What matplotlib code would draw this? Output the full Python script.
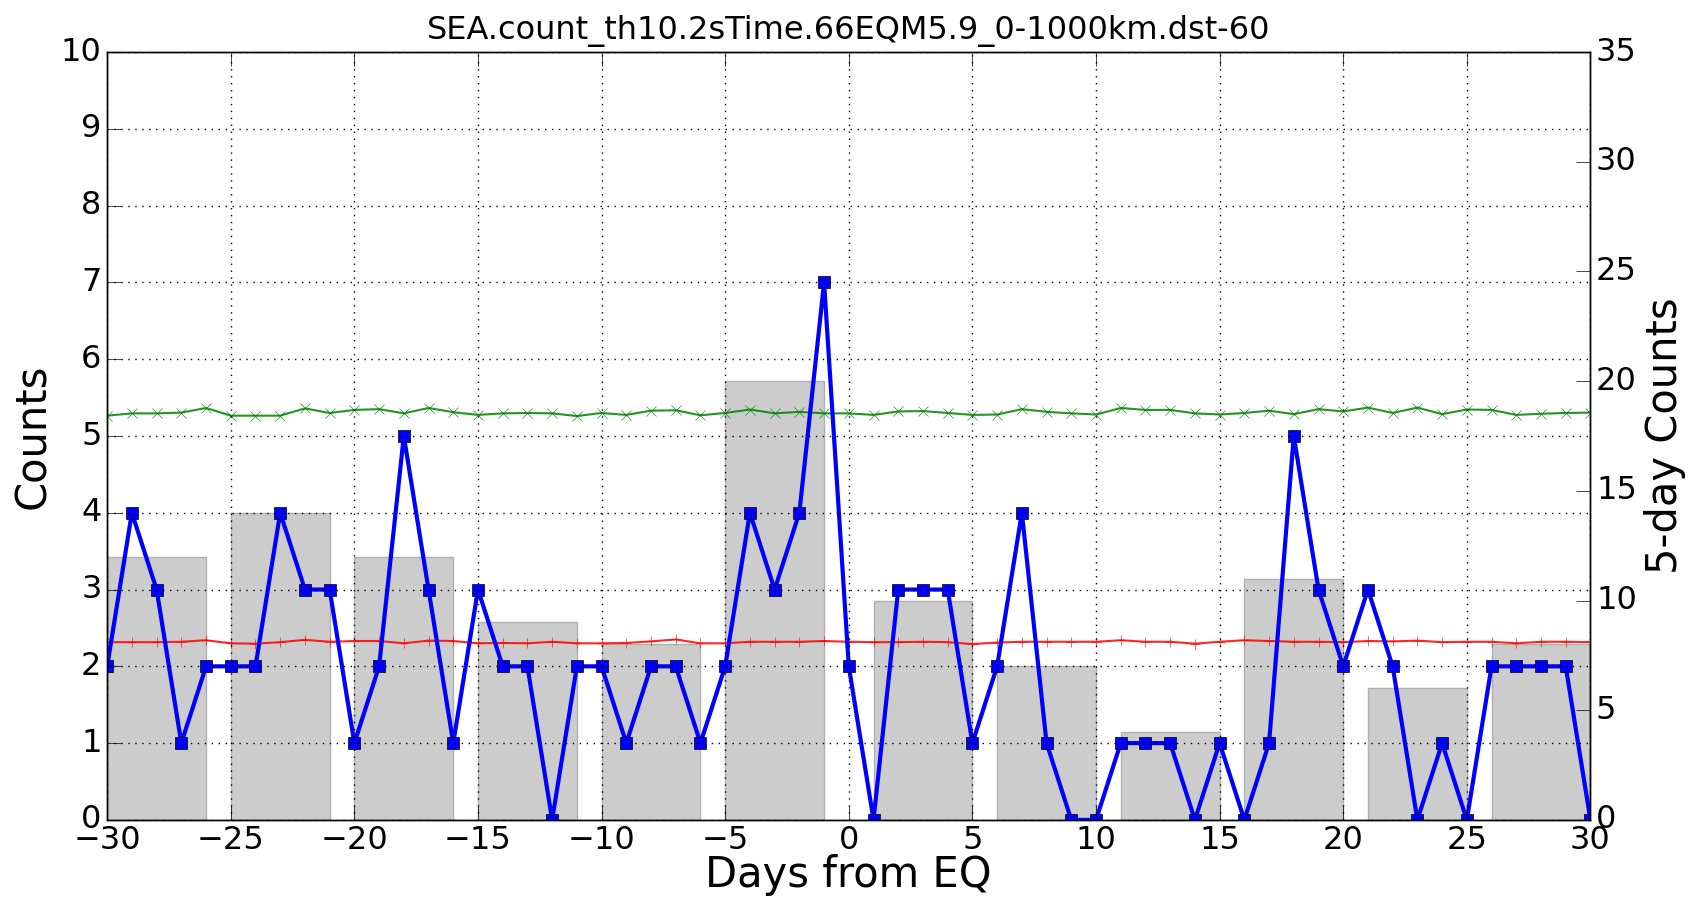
import matplotlib
matplotlib.use('Agg')
import matplotlib.pyplot as plt
import numpy as np

plt.style.use('classic')

# days from the earthquake
days = list(range(-30, 31))

# daily counts (blue)
counts = [2, 4, 3, 1, 2, 2, 2, 4, 3, 3,
          1, 2, 5, 3, 1, 3, 2, 2, 0, 2,
          2, 1, 2, 2, 1, 2, 4, 3, 4, 7,
          2, 0, 3, 3, 3, 1, 2, 4, 1, 0,
          0, 1, 1, 1, 0, 1, 0, 1, 5, 3,
          2, 3, 2, 0, 1, 0, 2, 2, 2, 2,
          0]

# upper level (green)
upper = [5.265, 5.295, 5.295, 5.305, 5.365, 5.265, 5.265, 5.265, 5.36, 5.30,
         5.34, 5.35, 5.295, 5.365, 5.31, 5.275, 5.295, 5.30, 5.295, 5.26,
         5.30, 5.275, 5.33, 5.335, 5.27, 5.30, 5.345, 5.295, 5.315, 5.295,
         5.295, 5.275, 5.32, 5.325, 5.30, 5.275, 5.28, 5.35, 5.315, 5.295,
         5.28, 5.365, 5.34, 5.34, 5.295, 5.28, 5.30, 5.33, 5.285, 5.35,
         5.32, 5.37, 5.30, 5.37, 5.285, 5.345, 5.34, 5.275, 5.29, 5.30,
         5.305]

# lower level (red)
lower = [2.315, 2.315, 2.315, 2.32, 2.34, 2.30, 2.295, 2.315, 2.345, 2.32,
         2.33, 2.33, 2.30, 2.335, 2.33, 2.30, 2.305, 2.30, 2.32, 2.30,
         2.30, 2.305, 2.325, 2.35, 2.30, 2.30, 2.32, 2.32, 2.32, 2.33,
         2.32, 2.315, 2.315, 2.32, 2.315, 2.29, 2.31, 2.32, 2.32, 2.32,
         2.32, 2.34, 2.32, 2.32, 2.295, 2.32, 2.34, 2.33, 2.32, 2.32,
         2.315, 2.33, 2.325, 2.335, 2.315, 2.32, 2.32, 2.30, 2.32, 2.32,
         2.315]

# 5-day sums (gray bars, right axis)
bar_left = [-30, -25, -20, -15, -10, -5, 1, 6, 11, 16, 21, 26]
bar_sums = [12, 14, 12, 9, 8, 20, 10, 7, 4, 11, 6, 8]

fig = plt.figure(figsize=(17.01, 8.99), dpi=100, facecolor='white')
ax1 = fig.add_axes([0.063, 0.088, 0.872, 0.854])
ax2 = ax1.twinx()

ax2.bar(bar_left, bar_sums, width=4, align='edge', color='#cccccc',
        edgecolor='#b0b0b0', linewidth=1)
ax2.set_ylim(0, 35)
ax2.set_ylabel('5-day Counts', fontsize=30)
ax2.tick_params(labelsize=23, length=10)

ax1.set_zorder(ax2.get_zorder() + 1)
ax1.patch.set_visible(False)

ax1.plot(days, upper, color='green', marker='x', markersize=7,
         markeredgecolor='green', linewidth=1.5, alpha=0.85)
ax1.plot(days, lower, color='red', marker='+', markersize=7,
         markeredgecolor='red', linewidth=1.5, alpha=0.85)
ax1.plot(days, counts, color='blue', marker='s', markersize=8,
         markeredgecolor='black', markerfacecolor='blue', linewidth=3)

ax1.set_xlim(-30, 30)
ax1.set_ylim(0, 10)
ax1.set_yticks(range(0, 11))
ax1.set_xticks(range(-30, 31, 5))
ax1.grid(True, color='black', linestyle=(0, (1, 4)), linewidth=1)
ax1.tick_params(labelsize=23, length=10)
ax1.set_xlabel('Days from EQ', fontsize=30, labelpad=-2)
ax1.set_ylabel('Counts', fontsize=30)
ax1.set_title('SEA.count_th10.2sTime.66EQM5.9_0-1000km.dst-60', fontsize=23, y=1.008)

plt.savefig('out.png', dpi=100, facecolor='white')
